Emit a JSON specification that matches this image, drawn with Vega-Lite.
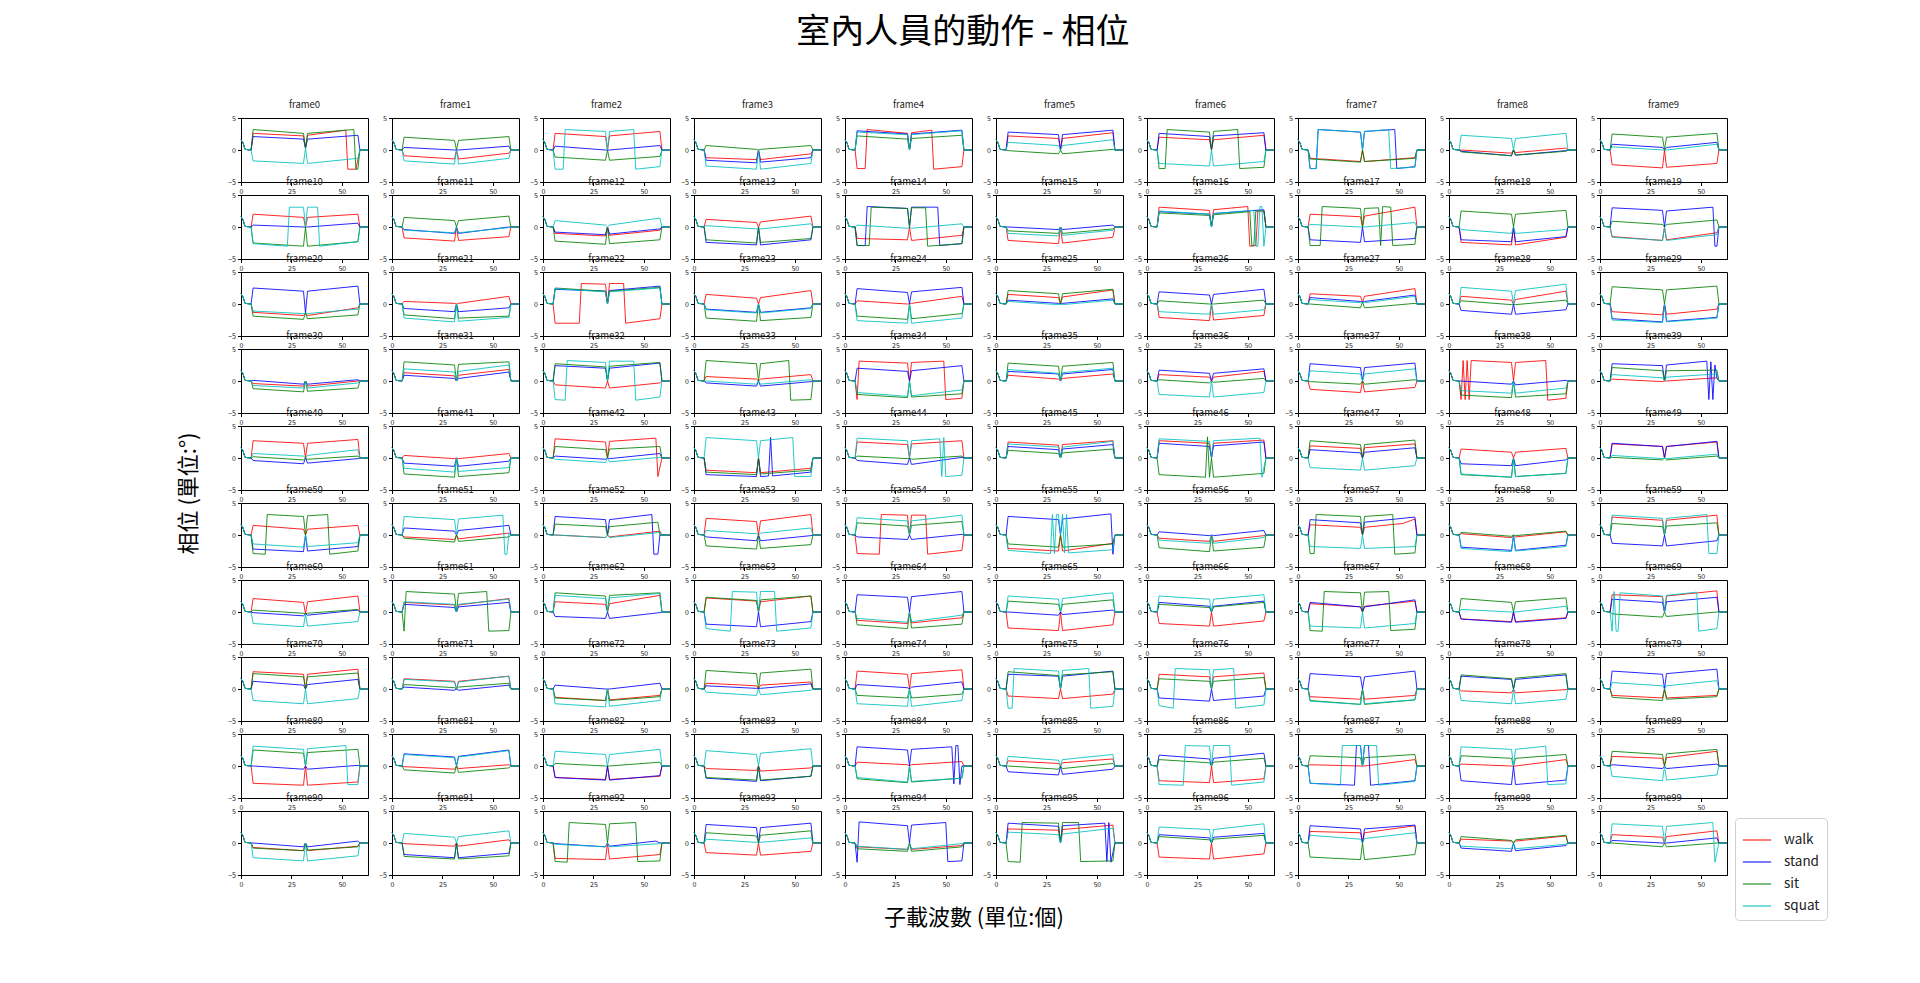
{
"$schema": "https://vega.github.io/schema/vega-lite/v6.json",
"padding": {"left": 178, "top": 16, "right": 10, "bottom": 10},
"title": {"text": "室內人員的動作 - 相位", "fontSize": 34, "fontWeight": "normal", "anchor": "middle", "offset": 49, "dx": -40, "color": "#000", "font": "Noto Sans CJK TC"},
"config": {
  "font": "Noto Sans CJK TC",
  "view": {"stroke": "#000", "strokeWidth": 1},
  "axis": {"grid": false, "labelFontSize": 7, "tickSize": 3.5, "labelPadding": 2, "domainColor": "#000", "tickColor": "#000", "labelColor": "#222", "labelFont": "Noto Sans CJK TC"}
},
"vconcat": [{
  "title": {"text": "子載波數 (單位:個)", "orient": "bottom", "anchor": "middle", "fontSize": 22, "fontWeight": "normal", "offset": 20, "dx": 20, "color": "#000"},
  "vconcat": [{
    "title": {"text": "相位 (單位:°)", "orient": "left", "anchor": "middle", "fontSize": 22, "fontWeight": "normal", "offset": 26, "color": "#000"},
    "data": {"values": [
{"f":0,"s":"walk","t":"0w","y":[1.6,1.1,0.1,0,2.6,2.2,0.3,2.3,3.1,-3,-3,0,0]},
{"f":0,"s":"stand","t":"s","y":[1.6,1.1,0.1,0,2.1,1.7,0.3,1.7,2.3,0,0]},
{"f":0,"s":"sit","t":"0i","y":[1.6,1.1,0.1,0,3.2,2.6,0.3,2.6,3.2,-3,-3,0,0]},
{"f":0,"s":"squat","t":"s","y":[1.6,1.1,0.1,0,-1.7,-2.1,0.3,-2.1,-1.3,0,0]},
{"f":1,"s":"walk","t":"s","y":[1.6,1.1,0.1,0,-0.9,-1.4,0,-1.4,-0.5,0,0]},
{"f":1,"s":"stand","t":"s","y":[1.6,1.1,0.1,0,0.4,0,0,0,0.6,0,0]},
{"f":1,"s":"sit","t":"s","y":[1.6,1.1,0.1,0,2,1.5,0,1.5,2.1,0,0]},
{"f":1,"s":"squat","t":"s","y":[1.6,1.1,0.1,0,-1.7,-2.2,0,-2.2,-1.3,0,0]},
{"f":2,"s":"walk","t":"s","y":[1.6,1.1,0.1,0,2.6,2.1,0,2.2,2.9,0,0]},
{"f":2,"s":"stand","t":"s","y":[1.6,1.1,0.1,0,0.6,0,0,0,0.7,0,0]},
{"f":2,"s":"sit","t":"s","y":[1.6,1.1,0.1,0,-1.1,-1.6,0,-1.6,-1,0,0]},
{"f":2,"s":"squat","t":"a10","y":[1.6,1.1,0.1,0,-3,-3,3.2,2.9,0,2.9,3.2,-3,-2.6,0,0]},
{"f":3,"s":"walk","t":"s","y":[1.6,1.1,0.1,0,-1.2,-1.5,0,-1.5,-0.6,0,0]},
{"f":3,"s":"stand","t":"s","y":[1.6,1.1,0.1,0,-1.6,-2,0,-1.9,-1.2,0,0]},
{"f":3,"s":"sit","t":"s","y":[1.6,1.1,0.1,0,0.7,0.1,0,0.1,0.7,0,0]},
{"f":3,"s":"squat","t":"s","y":[1.6,1.1,0.1,0,-2.5,-3,0,-3,-2.1,0,0]},
{"f":4,"s":"walk","t":"4w","y":[1.6,1.1,0.1,0,-2.9,-2.9,3.2,2.6,0,2.7,3.1,-3,-2.6,0,0]},
{"f":4,"s":"stand","t":"s","y":[1.6,1.1,0.1,0,3,2.5,0,2.5,3.1,0,0]},
{"f":4,"s":"sit","t":"s","y":[1.6,1.1,0.1,0,2.2,1.7,0,1.8,2.3,0,0]},
{"f":4,"s":"squat","t":"s","y":[1.6,1.1,0.1,0,2.8,2.4,0,2.4,3,0,0]},
{"f":5,"s":"walk","t":"s","y":[1.6,1.1,0.1,0,2.2,1.8,0,1.8,2.7,0,0]},
{"f":5,"s":"stand","t":"s","y":[1.6,1.1,0.1,0,2.8,2.4,0,2.4,3.1,0,0]},
{"f":5,"s":"sit","t":"s","y":[1.6,1.1,0.1,0,-0.1,-0.6,0,-0.6,0.1,0,0]},
{"f":5,"s":"squat","t":"s","y":[1.6,1.1,0.1,0,1.2,0.7,0,0.7,1.6,0,0]},
{"f":6,"s":"walk","t":"s","y":[1.6,1.1,0.1,0,2,1.6,0,1.6,2.3,0,0]},
{"f":6,"s":"stand","t":"s","y":[1.6,1.1,0.1,0,2.6,2.1,0,2.2,2.7,0,0]},
{"f":6,"s":"sit","t":"a9","y":[1.6,1.1,0.1,0,-2.9,-2.9,3.2,2.8,0,2.9,3.2,-2.9,-2.7,0,0]},
{"f":6,"s":"squat","t":"s","y":[1.6,1.1,0.1,0,-2.1,-2.5,0,-2.5,-1.8,0,0]},
{"f":7,"s":"walk","t":"s","y":[1.6,1.1,0.1,0,-1.3,-1.8,0,-1.8,-1.2,0,0]},
{"f":7,"s":"stand","t":"7s","y":[1.6,1.1,0.1,0,-2.9,-2.9,3.2,2.8,0,2.9,3.2,-2.9,-2.6,0,0]},
{"f":7,"s":"sit","t":"s","y":[1.6,1.1,0.1,0,-1.4,-1.9,0,-1.8,-1.3,0,0]},
{"f":7,"s":"squat","t":"a9","y":[1.6,1.1,0.1,0,-2.9,-2.9,3.2,2.8,0,2.9,3.2,-2.9,-2.7,0,0]},
{"f":8,"s":"walk","t":"s","y":[1.6,1.1,0.1,0,0,-0.5,0,-0.4,0.3,0,0]},
{"f":8,"s":"stand","t":"s","y":[1.6,1.1,0.1,0,-0.2,-0.9,0,-0.8,-0.1,0,0]},
{"f":8,"s":"sit","t":"s","y":[1.6,1.1,0.1,0,-0.3,-0.9,0,-0.8,-0.2,0,0]},
{"f":8,"s":"squat","t":"s","y":[1.6,1.1,0.1,0,2.3,1.8,0,1.8,2.6,0,0]},
{"f":9,"s":"walk","t":"s","y":[1.6,1.1,0.1,0,-2.3,-2.8,0,-2.7,-2.1,0,0]},
{"f":9,"s":"stand","t":"s","y":[1.6,1.1,0.1,0,0.9,0.4,0,0.4,1.2,0,0]},
{"f":9,"s":"sit","t":"s","y":[1.6,1.1,0.1,0,2.5,2,0,2,2.6,0,0]},
{"f":9,"s":"squat","t":"s","y":[1.6,1.1,0.1,0,0.5,0,0,0,0.9,0,0]},
{"f":10,"s":"walk","t":"s","y":[1.6,1.1,0.1,0,2,1.5,0,1.5,2,0,0]},
{"f":10,"s":"stand","t":"s","y":[1.6,1.1,0.1,0,0.3,0,0,0,0.6,0,0]},
{"f":10,"s":"sit","t":"s","y":[1.6,1.1,0.1,0,-2.5,-3,0,-3,-2.3,0,0]},
{"f":10,"s":"squat","t":"10q","y":[1.6,1.1,0.1,0,-2.6,-3,3.1,3.1,0,3.1,3.1,-3,-2.3,0,0]},
{"f":11,"s":"walk","t":"s","y":[1.6,1.1,0.1,0,-1.7,-2.2,0,-2.1,-1.5,0,0]},
{"f":11,"s":"stand","t":"s","y":[1.6,1.1,0.1,0,-0.4,-1,0,-1,0,0,0]},
{"f":11,"s":"sit","t":"s","y":[1.6,1.1,0.1,0,1.5,1,0,1,1.7,0,0]},
{"f":11,"s":"squat","t":"s","y":[1.6,1.1,0.1,0,-0.5,-0.9,0,-0.9,-0.1,0,0]},
{"f":12,"s":"walk","t":"s","y":[1.6,1.1,0.1,0,-1,-1.4,0,-1.3,-0.5,0,0]},
{"f":12,"s":"stand","t":"s","y":[1.6,1.1,0.1,0,-0.8,-1.2,0,-1.1,-0.3,0,0]},
{"f":12,"s":"sit","t":"s","y":[1.6,1.1,0.1,0,-2.2,-2.7,0,-2.6,-2,0,0]},
{"f":12,"s":"squat","t":"s","y":[1.6,1.1,0.1,0,1,0.3,0,0.3,1.4,0,0]},
{"f":13,"s":"walk","t":"s","y":[1.6,1.1,0.1,0,1.2,0.7,0,0.8,1.7,0,0]},
{"f":13,"s":"stand","t":"s","y":[1.6,1.1,0.1,0,-2.4,-2.8,0,-2.8,-2,0,0]},
{"f":13,"s":"sit","t":"s","y":[1.6,1.1,0.1,0,-2,-2.5,0,-2.4,-1.8,0,0]},
{"f":13,"s":"squat","t":"s","y":[1.6,1.1,0.1,0,0.2,-0.3,0,-0.3,0.5,0,0]},
{"f":14,"s":"walk","t":"s","y":[1.6,1.1,0.1,0,-1.8,-2,0,-2.1,-1.3,0,0]},
{"f":14,"s":"stand","t":"14s","y":[1.6,1.1,0.1,0,-2.9,-2.9,3.2,2.9,0,3.1,3.1,-2.9,-2.6,0,0]},
{"f":14,"s":"sit","t":"14i","y":[1.6,1.1,0.1,0,-2.9,-2.9,3.1,2.9,0,3,3,-3,-2.6,0,0]},
{"f":14,"s":"squat","t":"s","y":[1.6,1.1,0.1,0,0.3,-0.2,0,-0.2,0.5,0,0]},
{"f":15,"s":"walk","t":"s","y":[1.6,1.1,0.1,0,-2.1,-2.6,0,-2.5,-1.6,0,0]},
{"f":15,"s":"stand","t":"s","y":[1.6,1.1,0.1,0,0,-0.4,0,-0.4,0.3,0,0]},
{"f":15,"s":"sit","t":"s","y":[1.6,1.1,0.1,0,-0.6,-1,0,-1,-0.3,0,0]},
{"f":15,"s":"squat","t":"s","y":[1.6,1.1,0.1,0,-1,-1.4,0,-1.3,-0.5,0,0]},
{"f":16,"s":"walk","t":"16w","y":[1.6,1.1,0.1,0,3.1,2.6,0,2.7,3.2,-3,-2.9,2.5,2.5,0,0]},
{"f":16,"s":"stand","t":"s","y":[1.6,1.1,0.1,0,2.4,2,0,2.1,2.7,0,0]},
{"f":16,"s":"sit","t":"16i","y":[1.6,1.1,0.1,0,2.2,1.8,0,1.9,2.4,-2.9,-2.9,2.5,2.5,0,0]},
{"f":16,"s":"squat","t":"e16","y":[1.6,1.1,0.1,0,2.5,2,0,2.1,2.6,-3,-3,3.2,3.2,-3,0,0]},
{"f":17,"s":"walk","t":"s","y":[1.6,1.1,0.1,0,2,1.6,0,1.7,3.1,0,0]},
{"f":17,"s":"stand","t":"s","y":[1.6,1.1,0.1,0,-2,-2.4,0,-2.3,-1.8,0,0]},
{"f":17,"s":"sit","t":"17i","y":[1.6,1.1,0.1,0,-2.9,-2.9,3.2,2.9,0,2.9,3,-2.9,3.2,3.1,-2.9,-2.7,0,0]},
{"f":17,"s":"squat","t":"s","y":[1.6,1.1,0.1,0,0.4,0,0,0,0.7,0,0]},
{"f":18,"s":"walk","t":"s","y":[1.6,1.1,0.1,0,-2.4,-2.8,0,-2.8,-1.6,0,0]},
{"f":18,"s":"stand","t":"s","y":[1.6,1.1,0.1,0,-2,-2.3,0,-2.3,-1.5,0,0]},
{"f":18,"s":"sit","t":"s","y":[1.6,1.1,0.1,0,2.5,2,0,2,2.6,0,0]},
{"f":18,"s":"squat","t":"s","y":[1.6,1.1,0.1,0,-0.4,-1,0,-1,-0.4,0,0]},
{"f":19,"s":"walk","t":"s","y":[1.6,1.1,0.1,0,-1.5,-2.1,0,-2,-0.9,0,0]},
{"f":19,"s":"stand","t":"0i","y":[1.6,1.1,0.1,0,3,2.6,0,2.5,3.1,-3,-3,0,0]},
{"f":19,"s":"sit","t":"s","y":[1.6,1.1,0.1,0,0.9,0.4,0,0.4,1.1,0,0]},
{"f":19,"s":"squat","t":"s","y":[1.6,1.1,0.1,0,-1.6,-2.1,0,-2.1,-1.2,0,0]},
{"f":20,"s":"walk","t":"s","y":[1.6,1.1,0.1,0,-1.3,-1.8,-1.4,-1.8,-0.6,0,0]},
{"f":20,"s":"stand","t":"s","y":[1.6,1.1,0.1,0,2.5,2,-1.4,2,2.8,0,0]},
{"f":20,"s":"sit","t":"s","y":[1.6,1.1,0.1,0,-1.9,-2.4,-1.4,-2.3,-1.7,0,0]},
{"f":20,"s":"squat","t":"s","y":[1.6,1.1,0.1,0,-1.1,-1.5,-1.4,-1.5,-0.8,0,0]},
{"f":21,"s":"walk","t":"s","y":[1.6,1.1,0.1,0,0.4,0.1,0,0.1,1.2,0,0]},
{"f":21,"s":"stand","t":"s","y":[1.6,1.1,0.1,0,-0.7,-1.2,0,-1.2,-0.6,0,0]},
{"f":21,"s":"sit","t":"s","y":[1.6,1.1,0.1,0,-1.7,-2.3,0,-2.2,-1.9,0,0]},
{"f":21,"s":"squat","t":"s","y":[1.6,1.1,0.1,0,-2.2,-2.8,0,-2.7,-2.1,0,0]},
{"f":22,"s":"walk","t":"j18","y":[1.6,1.1,0.1,0,-3,-3,3.2,3.1,0,3.2,3.2,-3,-2.3,0,0]},
{"f":22,"s":"stand","t":"s","y":[1.6,1.1,0.1,0,2.3,2,0,2.1,2.8,0,0]},
{"f":22,"s":"sit","t":"s","y":[1.6,1.1,0.1,0,2.5,2,0,2,2.6,0,0]},
{"f":22,"s":"squat","t":"s","y":[1.6,1.1,0.1,0,2.4,1.9,0,1.9,2.5,0,0]},
{"f":23,"s":"walk","t":"s","y":[1.6,1.1,0.1,0,1.5,0.9,0,1,2.1,0,0]},
{"f":23,"s":"stand","t":"s","y":[1.6,1.1,0.1,0,-0.8,-1.3,0,-1.3,-0.6,0,0]},
{"f":23,"s":"sit","t":"s","y":[1.6,1.1,0.1,0,-2.2,-2.7,0,-2.6,-2.1,0,0]},
{"f":23,"s":"squat","t":"s","y":[1.6,1.1,0.1,0,-0.9,-1.4,0,-1.4,-0.7,0,0]},
{"f":24,"s":"walk","t":"s","y":[1.6,1.1,0.1,0,0.5,0,0,0.1,1.2,0,0]},
{"f":24,"s":"stand","t":"s","y":[1.6,1.1,0.1,0,2.4,1.8,0,1.9,2.6,0,0]},
{"f":24,"s":"sit","t":"s","y":[1.6,1.1,0.1,0,-1.9,-2.4,0,-2.3,-1.5,0,0]},
{"f":24,"s":"squat","t":"s","y":[1.6,1.1,0.1,0,-2.6,-3,0,-3,-2.2,0,0]},
{"f":25,"s":"walk","t":"s","y":[1.6,1.1,0.1,0,1.5,1,0,1.1,2.2,0,0]},
{"f":25,"s":"stand","t":"s","y":[1.6,1.1,0.1,0,0.6,0.1,0,0.1,0.8,0,0]},
{"f":25,"s":"sit","t":"s","y":[1.6,1.1,0.1,0,2.1,1.6,0,1.6,2.3,0,0]},
{"f":25,"s":"squat","t":"s","y":[1.6,1.1,0.1,0,0.4,-0.1,0,-0.1,0.6,0,0]},
{"f":26,"s":"walk","t":"s","y":[1.6,1.1,0.1,0,-2.1,-2.6,0,-2.5,-1.8,0,0]},
{"f":26,"s":"stand","t":"s","y":[1.6,1.1,0.1,0,1.9,1.4,0,1.5,2.3,0,0]},
{"f":26,"s":"sit","t":"s","y":[1.6,1.1,0.1,0,0.5,0,0,0,0.6,0,0]},
{"f":26,"s":"squat","t":"s","y":[1.6,1.1,0.1,0,-1.2,-1.6,0,-1.6,-0.9,0,0]},
{"f":27,"s":"walk","t":"s","y":[1.6,1.1,0.1,0,1.6,1.2,0.3,1.2,2.4,0,0]},
{"f":27,"s":"stand","t":"s","y":[1.6,1.1,0.1,0,1,0.4,0.3,0.4,1.4,0,0]},
{"f":27,"s":"sit","t":"s","y":[1.6,1.1,0.1,0,0,-0.6,0.3,-0.6,0.1,0,0]},
{"f":27,"s":"squat","t":"s","y":[1.6,1.1,0.1,0,0.7,0.2,0.3,0.2,1.2,0,0]},
{"f":28,"s":"walk","t":"s","y":[1.6,1.1,0.1,0,1.2,0.6,0,0.7,2,0,0]},
{"f":28,"s":"stand","t":"s","y":[1.6,1.1,0.1,0,-1,-1.6,0,-1.6,-0.9,0,0]},
{"f":28,"s":"sit","t":"s","y":[1.6,1.1,0.1,0,0.5,-0.1,0,-0.1,0.6,0,0]},
{"f":28,"s":"squat","t":"s","y":[1.6,1.1,0.1,0,2.6,2,0,2.1,3.1,0,0]},
{"f":29,"s":"walk","t":"s","y":[1.6,1.1,0.1,0,-1.2,-1.7,0,-1.6,-0.8,0,0]},
{"f":29,"s":"stand","t":"s","y":[1.6,1.1,0.1,0,-2.3,-2.8,0,-2.7,-2.1,0,0]},
{"f":29,"s":"sit","t":"s","y":[1.6,1.1,0.1,0,2.7,2.2,0,2.2,2.8,0,0]},
{"f":29,"s":"squat","t":"s","y":[1.6,1.1,0.1,0,-2.5,-2.9,0,-2.8,-2.2,0,0]},
{"f":30,"s":"walk","t":"s","y":[1.6,1.1,0.1,0,-0.4,-0.8,0,-0.8,0,0,0]},
{"f":30,"s":"stand","t":"s","y":[1.6,1.1,0.1,0,0.1,-0.5,0,-0.5,0.2,0,0]},
{"f":30,"s":"sit","t":"s","y":[1.6,1.1,0.1,0,-1.2,-1.7,0,-1.6,-1.1,0,0]},
{"f":30,"s":"squat","t":"s","y":[1.6,1.1,0.1,0,-0.7,-1.1,0,-1.1,-0.3,0,0]},
{"f":31,"s":"walk","t":"s","y":[1.6,1.1,0.1,0,1.3,0.8,0,0.9,1.8,0,0]},
{"f":31,"s":"stand","t":"s","y":[1.6,1.1,0.1,0,0.9,0.4,0,0.4,1.4,0,0]},
{"f":31,"s":"sit","t":"s","y":[1.6,1.1,0.1,0,3,2.5,0,2.6,3,0,0]},
{"f":31,"s":"squat","t":"s","y":[1.6,1.1,0.1,0,1.9,1.4,0,1.5,2.5,0,0]},
{"f":32,"s":"walk","t":"s","y":[1.6,1.1,0.1,0,-0.6,-1.1,0,-1.1,-0.3,0,0]},
{"f":32,"s":"stand","t":"s","y":[1.6,1.1,0.1,0,2.4,2,0,2,2.8,0,0]},
{"f":32,"s":"sit","t":"s","y":[1.6,1.1,0.1,0,2.7,2.2,0,2.3,2.9,0,0]},
{"f":32,"s":"squat","t":"32q","y":[1.6,1.1,0.1,0,-2.9,-3,3.2,2.9,0,3.1,3.1,-3,-2.5,0,0]},
{"f":33,"s":"walk","t":"s","y":[1.6,1.1,0.1,0,0.7,0.3,0,0.3,1,0,0]},
{"f":33,"s":"stand","t":"s","y":[1.6,1.1,0.1,0,-0.3,-0.8,0,-0.8,-0.1,0,0]},
{"f":33,"s":"sit","t":"33i","y":[1.6,1.1,0.1,0,3.2,2.7,0,2.7,3.2,-3,-2.9,0,0]},
{"f":33,"s":"squat","t":"s","y":[1.6,1.1,0.1,0,0,-0.5,0,-0.5,0.2,0,0]},
{"f":34,"s":"walk","t":"34w","y":[1.6,1.1,0.1,0,-2.9,3.1,2.8,0,2.9,3.1,-2.9,-2.7,0,0]},
{"f":34,"s":"stand","t":"s","y":[1.6,1.1,0.1,0,2,1.5,0,1.6,2.4,0,0]},
{"f":34,"s":"sit","t":"s","y":[1.6,1.1,0.1,0,-2.1,-2.6,0,-2.5,-2,0,0]},
{"f":34,"s":"squat","t":"s","y":[1.6,1.1,0.1,0,-1.8,-2.4,0,-2.3,-1.4,0,0]},
{"f":35,"s":"walk","t":"s","y":[1.6,1.1,0.1,0,0.9,0.3,0,0.4,1.1,0,0]},
{"f":35,"s":"stand","t":"s","y":[1.6,1.1,0.1,0,1.5,1.1,0,1.1,1.8,0,0]},
{"f":35,"s":"sit","t":"s","y":[1.6,1.1,0.1,0,2.8,2.3,0,2.3,2.9,0,0]},
{"f":35,"s":"squat","t":"s","y":[1.6,1.1,0.1,0,1.8,1.2,0,1.3,2,0,0]},
{"f":36,"s":"walk","t":"s","y":[1.6,1.1,0.1,0,1,0.6,0,0.6,1.5,0,0]},
{"f":36,"s":"stand","t":"s","y":[1.6,1.1,0.1,0,1.7,1.2,0,1.2,1.9,0,0]},
{"f":36,"s":"sit","t":"s","y":[1.6,1.1,0.1,0,0.2,-0.3,0,-0.2,0.4,0,0]},
{"f":36,"s":"squat","t":"s","y":[1.6,1.1,0.1,0,-2.1,-2.5,0,-2.5,-1.8,0,0]},
{"f":37,"s":"walk","t":"s","y":[1.6,1.1,0.1,0,-1.3,-1.8,0,-1.7,-1,0,0]},
{"f":37,"s":"stand","t":"s","y":[1.6,1.1,0.1,0,2.7,2.1,0,2.1,2.8,0,0]},
{"f":37,"s":"sit","t":"s","y":[1.6,1.1,0.1,0,-0.1,-0.5,0,-0.5,0.2,0,0]},
{"f":37,"s":"squat","t":"s","y":[1.6,1.1,0.1,0,1.6,1.1,0,1.1,1.9,0,0]},
{"f":38,"s":"walk","t":"38w","y":[1.6,1.1,0.1,0,-2.9,3.2,-2.9,3.2,-2.9,3.2,2.9,0,2.9,3.2,-3,-2.7,0,0]},
{"f":38,"s":"stand","t":"s","y":[1.6,1.1,0.1,0,0,-0.5,0,-0.6,0.1,0,0]},
{"f":38,"s":"sit","t":"s","y":[1.6,1.1,0.1,0,-2.2,-2.6,0,-2.5,-2,0,0]},
{"f":38,"s":"squat","t":"s","y":[1.6,1.1,0.1,0,-1.5,-1.9,0,-1.9,-1.1,0,0]},
{"f":39,"s":"walk","t":"s","y":[1.6,1.1,0.1,0,0.3,-0.1,0,0,0.5,0,0]},
{"f":39,"s":"stand","t":"e16","y":[1.6,1.1,0.1,0,2.7,2.4,0,2.5,3.1,-2.9,3,-2.9,2.5,0.5,0,0]},
{"f":39,"s":"sit","t":"s","y":[1.6,1.1,0.1,0,2.1,1.6,0,1.6,1.7,0,0]},
{"f":39,"s":"squat","t":"s","y":[1.6,1.1,0.1,0,1,0.5,0,0.6,1.1,0,0]},
{"f":40,"s":"walk","t":"s","y":[1.6,1.1,0.1,0,2.7,2.3,0,2.3,2.9,0,0]},
{"f":40,"s":"stand","t":"s","y":[1.6,1.1,0.1,0,-0.4,-0.9,0,-0.8,-0.1,0,0]},
{"f":40,"s":"sit","t":"s","y":[1.6,1.1,0.1,0,0.2,-0.3,0,-0.2,0.3,0,0]},
{"f":40,"s":"squat","t":"s","y":[1.6,1.1,0.1,0,0.7,0.3,0,0.4,1.3,0,0]},
{"f":41,"s":"walk","t":"s","y":[1.6,1.1,0.1,0,0.4,-0.1,0,-0.1,0.7,0,0]},
{"f":41,"s":"stand","t":"s","y":[1.6,1.1,0.1,0,-0.8,-1.3,0,-1.3,-0.5,0,0]},
{"f":41,"s":"sit","t":"s","y":[1.6,1.1,0.1,0,-2.5,-3,0,-2.9,-2.3,0,0]},
{"f":41,"s":"squat","t":"s","y":[1.6,1.1,0.1,0,-1.6,-2.2,0,-2.1,-1.5,0,0]},
{"f":42,"s":"walk","t":"e56","y":[1.6,1.1,0.1,0,3,2.5,0,2.6,3.1,-2.9,0,0]},
{"f":42,"s":"stand","t":"s","y":[1.6,1.1,0.1,0,0.3,-0.2,0,-0.1,0.7,0,0]},
{"f":42,"s":"sit","t":"s","y":[1.6,1.1,0.1,0,1.8,1.3,0,1.4,1.8,0,0]},
{"f":42,"s":"squat","t":"s","y":[1.6,1.1,0.1,0,-0.2,-0.7,0,-0.6,0.1,0,0]},
{"f":43,"s":"walk","t":"s","y":[1.6,1.1,0.1,0,-1.9,-2.3,0,-2.3,-1.6,0,0]},
{"f":43,"s":"stand","t":"43s","y":[1.6,1.1,0.1,0,-2.6,-2.9,0,-2.9,-2.8,3.2,-2.8,-2.2,0,0]},
{"f":43,"s":"sit","t":"s","y":[1.6,1.1,0.1,0,-2.2,-2.6,0,-2.5,-1.9,0,0]},
{"f":43,"s":"squat","t":"43q","y":[1.6,1.1,0.1,0,3.2,2.7,0,2.7,3.2,-2.9,-2.9,0,0]},
{"f":44,"s":"walk","t":"s","y":[1.6,1.1,0.1,0,2.5,2.1,0,2.2,2.7,0,0]},
{"f":44,"s":"stand","t":"s","y":[1.6,1.1,0.1,0,-0.4,-1,0,-1,0.1,0,0]},
{"f":44,"s":"sit","t":"s","y":[1.6,1.1,0.1,0,0.3,-0.1,0,-0.2,0.3,0,0]},
{"f":44,"s":"squat","t":"44q","y":[1.6,1.1,0.1,0,3.1,2.7,0,2.7,3,-2.9,3.2,-2.9,-2.7,0,0]},
{"f":45,"s":"walk","t":"s","y":[1.6,1.1,0.1,0,2.5,2,0,2.1,2.7,0,0]},
{"f":45,"s":"stand","t":"s","y":[1.6,1.1,0.1,0,1.8,1.3,0,1.4,2.1,0,0]},
{"f":45,"s":"sit","t":"s","y":[1.6,1.1,0.1,0,1.2,0.7,0,0.8,1.4,0,0]},
{"f":45,"s":"squat","t":"s","y":[1.6,1.1,0.1,0,2.2,1.7,0,1.7,2.6,0,0]},
{"f":46,"s":"walk","t":"s","y":[1.6,1.1,0.1,0,2.7,2.3,0,2.3,2.8,0,0]},
{"f":46,"s":"stand","t":"s","y":[1.6,1.1,0.1,0,2.3,1.8,0,1.9,2.5,0,0]},
{"f":46,"s":"sit","t":"46i","y":[1.6,1.1,0.1,0,-2.6,-3,3.3,-3,0,-3,-2.4,0,0]},
{"f":46,"s":"squat","t":"e56","y":[1.6,1.1,0.1,0,3,2.6,0,2.7,3.1,-3,0,0]},
{"f":47,"s":"walk","t":"s","y":[1.6,1.1,0.1,0,1.9,1.5,0,1.6,2.2,0,0]},
{"f":47,"s":"stand","t":"s","y":[1.6,1.1,0.1,0,1.3,0.8,0,0.9,1.6,0,0]},
{"f":47,"s":"sit","t":"s","y":[1.6,1.1,0.1,0,2.7,2.1,0,2.1,2.8,0,0]},
{"f":47,"s":"squat","t":"s","y":[1.6,1.1,0.1,0,-1.5,-1.9,0,-1.9,-1.2,0,0]},
{"f":48,"s":"walk","t":"s","y":[1.6,1.1,0.1,0,1.4,0.9,0,0.9,1.5,0,0]},
{"f":48,"s":"stand","t":"s","y":[1.6,1.1,0.1,0,-0.9,-1.2,0,-1.2,-0.3,0,0]},
{"f":48,"s":"sit","t":"s","y":[1.6,1.1,0.1,0,-2.6,-3,0,-2.9,-2.4,0,0]},
{"f":48,"s":"squat","t":"s","y":[1.6,1.1,0.1,0,-2.5,-3,0,-2.9,-2.4,0,0]},
{"f":49,"s":"walk","t":"s","y":[1.6,1.1,0.1,0,2.2,1.8,0,1.8,2.5,0,0]},
{"f":49,"s":"stand","t":"s","y":[1.6,1.1,0.1,0,2.3,1.8,0,1.8,2.6,0,0]},
{"f":49,"s":"sit","t":"s","y":[1.6,1.1,0.1,0,0.1,-0.3,0,-0.3,0.3,0,0]},
{"f":49,"s":"squat","t":"s","y":[1.6,1.1,0.1,0,0.4,-0.1,0,-0.1,0.6,0,0]},
{"f":50,"s":"walk","t":"s","y":[1.6,1.1,0.1,0,1.5,0.9,0,0.9,1.5,0,0]},
{"f":50,"s":"stand","t":"s","y":[1.6,1.1,0.1,0,-2.2,-2.6,0,-2.5,-1.8,0,0]},
{"f":50,"s":"sit","t":"50i","y":[1.6,1.1,0.1,0,-2.9,-3,3.2,2.9,0,3,3.2,-3,-2.5,0,0]},
{"f":50,"s":"squat","t":"s","y":[1.6,1.1,0.1,0,-1.4,-1.9,0,-1.8,-1.2,0,0]},
{"f":51,"s":"walk","t":"s","y":[1.6,1.1,0.1,0,-0.3,-0.7,0,-0.6,0.3,0,0]},
{"f":51,"s":"stand","t":"s","y":[1.6,1.1,0.1,0,1.1,0.6,0,0.7,1.5,0,0]},
{"f":51,"s":"sit","t":"s","y":[1.6,1.1,0.1,0,-0.5,-1.1,0,-1,-0.3,0,0]},
{"f":51,"s":"squat","t":"51q","y":[1.6,1.1,0.1,0,2.9,2.4,0,2.5,3.1,-3,-3,0.3,0,0]},
{"f":52,"s":"walk","t":"s","y":[1.6,1.1,0.1,0,0,-0.4,0,-0.3,0.6,0,0]},
{"f":52,"s":"stand","t":"52s","y":[1.6,1.1,0.1,0,2.9,2.4,0,2.4,3.2,-3,-3,0,0,0]},
{"f":52,"s":"sit","t":"e57","y":[1.6,1.1,0.1,0,1.7,1.3,0,1.3,2,0,0,0]},
{"f":52,"s":"squat","t":"s","y":[1.6,1.1,0.1,0,0,-0.4,0,-0.4,0.4,0,0]},
{"f":53,"s":"walk","t":"s","y":[1.6,1.1,0.1,0,2.6,2.1,0,2.2,3.2,0,0]},
{"f":53,"s":"stand","t":"s","y":[1.6,1.1,0.1,0,-0.3,-0.9,0,-0.9,-0.1,0,0]},
{"f":53,"s":"sit","t":"s","y":[1.6,1.1,0.1,0,-1.7,-2.2,0,-2.1,-1.5,0,0]},
{"f":53,"s":"squat","t":"s","y":[1.6,1.1,0.1,0,0.7,0.2,0,0.3,1.1,0,0]},
{"f":54,"s":"walk","t":"54w","y":[1.6,1.1,0.1,0,-2.9,-3,3.2,3.1,0,3.1,3.1,-3,-2.4,0,0]},
{"f":54,"s":"stand","t":"s","y":[1.6,1.1,0.1,0,-0.3,-0.7,0,-0.7,0.1,0,0]},
{"f":54,"s":"sit","t":"s","y":[1.6,1.1,0.1,0,1.9,1.4,0,1.5,2.1,0,0]},
{"f":54,"s":"squat","t":"s","y":[1.6,1.1,0.1,0,2.7,2.2,0,2.2,3.1,0,0]},
{"f":55,"s":"walk","t":"s","y":[1.6,1.1,0.1,0,-2.1,-2.5,0,-2.5,-1.3,0,0]},
{"f":55,"s":"stand","t":"e57","y":[1.6,1.1,0.1,0,2.9,2.4,0,2.5,3.3,-3,0,0]},
{"f":55,"s":"sit","t":"s","y":[1.6,1.1,0.1,0,-1.4,-1.9,0,-1.9,-1.4,0,0]},
{"f":55,"s":"squat","t":"55q","y":[1.6,1.1,0.1,0,-2.4,-2.9,3.2,-2.9,3.2,3.2,0,3.2,-2.8,3.2,-2.8,-2.3,0,0]},
{"f":56,"s":"walk","t":"s","y":[1.6,1.1,0.1,0,-0.5,-1,0,-1,-0.1,0,0]},
{"f":56,"s":"stand","t":"s","y":[1.6,1.1,0.1,0,0.5,-0.1,0,-0.1,0.7,0,0]},
{"f":56,"s":"sit","t":"s","y":[1.6,1.1,0.1,0,-2,-2.6,0,-2.5,-1.9,0,0]},
{"f":56,"s":"squat","t":"s","y":[1.6,1.1,0.1,0,-0.8,-1.3,0,-1.3,-0.4,0,0]},
{"f":57,"s":"walk","t":"57w","y":[1.6,1.1,0.1,0,1.6,1.2,0,1.2,1.8,2.5,0,0]},
{"f":57,"s":"stand","t":"s","y":[1.6,1.1,0.1,0,2.4,1.9,0,2,2.8,0,0]},
{"f":57,"s":"sit","t":"57i","y":[1.6,1.1,0.1,0,-2.9,-2.9,3.2,2.9,0,2.9,3.2,-3,-2.8,0,0]},
{"f":57,"s":"squat","t":"s","y":[1.6,1.1,0.1,0,-1.8,-2.1,0,-2.1,-1.8,0,0]},
{"f":58,"s":"walk","t":"s","y":[1.6,1.1,0.1,0,0.2,-0.4,0,-0.3,0.5,0,0]},
{"f":58,"s":"stand","t":"s","y":[1.6,1.1,0.1,0,-1.9,-2.4,0,-2.4,-1.6,0,0]},
{"f":58,"s":"sit","t":"s","y":[1.6,1.1,0.1,0,0.4,-0.2,0,-0.1,0.6,0,0]},
{"f":58,"s":"squat","t":"s","y":[1.6,1.1,0.1,0,-2.1,-2.6,0,-2.5,-1.8,0,0]},
{"f":59,"s":"walk","t":"s","y":[1.6,1.1,0.1,0,2.8,2.3,0,2.3,3.1,0,0]},
{"f":59,"s":"stand","t":"s","y":[1.6,1.1,0.1,0,-1.3,-1.7,0,-1.7,-0.9,0,0]},
{"f":59,"s":"sit","t":"s","y":[1.6,1.1,0.1,0,1.8,1.3,0,1.4,1.9,0,0]},
{"f":59,"s":"squat","t":"59q","y":[1.6,1.1,0.1,0,3.1,2.6,0,2.6,3.2,-2.9,-2.9,0,0]},
{"f":60,"s":"walk","t":"s","y":[1.6,1.1,0.1,0,2.1,1.5,-0.3,1.6,2.5,0,0]},
{"f":60,"s":"stand","t":"s","y":[1.6,1.1,0.1,0,-0.1,-0.6,-0.3,-0.5,0.3,0,0]},
{"f":60,"s":"sit","t":"s","y":[1.6,1.1,0.1,0,0.3,-0.2,-0.3,-0.2,0.4,0,0]},
{"f":60,"s":"squat","t":"s","y":[1.6,1.1,0.1,0,-1.8,-2.3,-0.3,-2.2,-1.5,0,0]},
{"f":61,"s":"walk","t":"s","y":[1.6,1.1,0.1,0,1.5,1.1,0,1.1,2.1,0,0]},
{"f":61,"s":"stand","t":"s","y":[1.6,1.1,0.1,0,1.2,0.7,0,0.8,1.5,0,0]},
{"f":61,"s":"sit","t":"61i","y":[1.6,1.1,0.1,0,-3,3.2,2.8,0,2.9,3.2,-3,-2.9,0,0]},
{"f":61,"s":"squat","t":"s","y":[1.6,1.1,0.1,0,1.6,1.2,0,1.2,2,0,0]},
{"f":62,"s":"walk","t":"s","y":[1.6,1.1,0.1,0,1.6,1.2,0,1.3,2.6,0,0]},
{"f":62,"s":"stand","t":"s","y":[1.6,1.1,0.1,0,-0.7,-1,0,-1,-0.1,0,0]},
{"f":62,"s":"sit","t":"s","y":[1.6,1.1,0.1,0,3,2.5,0,2.6,3,0,0]},
{"f":62,"s":"squat","t":"s","y":[1.6,1.1,0.1,0,2.6,2.1,0,2.2,2.9,0,0]},
{"f":63,"s":"walk","t":"s","y":[1.6,1.1,0.1,0,2.2,1.7,0,1.6,2.5,0,0]},
{"f":63,"s":"stand","t":"s","y":[1.6,1.1,0.1,0,-1.9,-2.3,0,-2.3,-1.5,0,0]},
{"f":63,"s":"sit","t":"s","y":[1.6,1.1,0.1,0,2.3,1.8,0,1.9,2.5,0,0]},
{"f":63,"s":"squat","t":"j18","y":[1.6,1.1,0.1,0,-2.6,-3,3.2,3.1,0,3.2,3.2,-3,-2.5,0,0]},
{"f":64,"s":"walk","t":"s","y":[1.6,1.1,0.1,0,-1.3,-1.8,0,-1.7,-0.9,0,0]},
{"f":64,"s":"stand","t":"s","y":[1.6,1.1,0.1,0,2.7,2.3,0,2.4,3.2,0,0]},
{"f":64,"s":"sit","t":"s","y":[1.6,1.1,0.1,0,-2,-2.6,0,-2.5,-1.9,0,0]},
{"f":64,"s":"squat","t":"s","y":[1.6,1.1,0.1,0,-1,-1.6,0,-1.5,-0.5,0,0]},
{"f":65,"s":"walk","t":"s","y":[1.6,1.1,0.1,0,-2.5,-2.9,0,-2.9,-2,0,0]},
{"f":65,"s":"stand","t":"s","y":[1.6,1.1,0.1,0,0,-0.5,0,-0.4,0.3,0,0]},
{"f":65,"s":"sit","t":"s","y":[1.6,1.1,0.1,0,1.7,1.2,0,1.2,1.9,0,0]},
{"f":65,"s":"squat","t":"s","y":[1.6,1.1,0.1,0,2.5,2,0,2.1,3,0,0]},
{"f":66,"s":"walk","t":"s","y":[1.6,1.1,0.1,0,-1.8,-2.2,0,-2.2,-1.4,0,0]},
{"f":66,"s":"stand","t":"s","y":[1.6,1.1,0.1,0,1.5,0.9,0,0.9,1.7,0,0]},
{"f":66,"s":"sit","t":"s","y":[1.6,1.1,0.1,0,1.2,0.7,0,0.8,1.5,0,0]},
{"f":66,"s":"squat","t":"s","y":[1.6,1.1,0.1,0,2.5,2,0,2,2.7,0,0]},
{"f":67,"s":"walk","t":"s","y":[1.6,1.1,0.1,0,1.3,0.8,0,0.9,1.7,0,0]},
{"f":67,"s":"stand","t":"s","y":[1.6,1.1,0.1,0,1.5,0.8,0,0.8,1.9,0,0]},
{"f":67,"s":"sit","t":"j12","y":[1.6,1.1,0.1,0,-2.9,-3,3.2,3,0,3.1,3.2,-2.9,-2.7,0,0]},
{"f":67,"s":"squat","t":"s","y":[1.6,1.1,0.1,0,-2.2,-2.5,0,-2.5,-1.8,0,0]},
{"f":68,"s":"walk","t":"s","y":[1.6,1.1,0.1,0,-1.1,-1.5,0,-1.5,-0.9,0,0]},
{"f":68,"s":"stand","t":"s","y":[1.6,1.1,0.1,0,-1.1,-1.6,0,-1.6,-1,0,0]},
{"f":68,"s":"sit","t":"s","y":[1.6,1.1,0.1,0,2.1,1.5,0,1.6,2.2,0,0]},
{"f":68,"s":"squat","t":"s","y":[1.6,1.1,0.1,0,0.4,0,0,0,0.9,0,0]},
{"f":69,"s":"walk","t":"s","y":[1.6,1.1,0.1,0,2.7,2.4,0,2.5,3.3,0,0]},
{"f":69,"s":"stand","t":"s","y":[1.6,1.1,0.1,0,2,1.5,0,1.6,2.3,0,0]},
{"f":69,"s":"sit","t":"s","y":[1.6,1.1,0.1,0,-0.3,-0.8,0,-0.7,0,0,0]},
{"f":69,"s":"squat","t":"69q","y":[1.6,1.1,0.1,0,-3,3.2,-3,-3,3,2.5,0,2.6,3.1,-3,-2.6,0,0]},
{"f":70,"s":"walk","t":"s","y":[1.6,1.1,0.1,0,2.7,2.3,0,2.3,3.1,0,0]},
{"f":70,"s":"stand","t":"s","y":[1.6,1.1,0.1,0,1.2,0.6,0,0.7,1.5,0,0]},
{"f":70,"s":"sit","t":"s","y":[1.6,1.1,0.1,0,2.4,1.9,0,1.9,2.5,0,0]},
{"f":70,"s":"squat","t":"s","y":[1.6,1.1,0.1,0,-1.8,-2.3,0,-2.3,-1.5,0,0]},
{"f":71,"s":"walk","t":"s","y":[1.6,1.1,0.1,0,1.6,1.2,0,1.2,2,0,0]},
{"f":71,"s":"stand","t":"s","y":[1.6,1.1,0.1,0,0.3,-0.2,0,-0.2,0.6,0,0]},
{"f":71,"s":"sit","t":"s","y":[1.6,1.1,0.1,0,0.7,0.2,0,0.3,0.9,0,0]},
{"f":71,"s":"squat","t":"s","y":[1.6,1.1,0.1,0,1.5,1.1,0,1.1,2,0,0]},
{"f":72,"s":"walk","t":"s","y":[1.6,1.1,0.1,0,-1.3,-1.8,0,-1.7,-1,0,0]},
{"f":72,"s":"stand","t":"s","y":[1.6,1.1,0.1,0,0.6,0,0,0,0.9,0,0]},
{"f":72,"s":"sit","t":"s","y":[1.6,1.1,0.1,0,-1.4,-1.8,0,-1.8,-1.2,0,0]},
{"f":72,"s":"squat","t":"s","y":[1.6,1.1,0.1,0,-2.3,-2.8,0,-2.7,-1.8,0,0]},
{"f":73,"s":"walk","t":"s","y":[1.6,1.1,0.1,0,0.9,0.5,0,0.6,1.1,0,0]},
{"f":73,"s":"stand","t":"s","y":[1.6,1.1,0.1,0,0.5,0.1,0,0.1,0.8,0,0]},
{"f":73,"s":"sit","t":"s","y":[1.6,1.1,0.1,0,2.9,2.4,0,2.5,3.1,0,0]},
{"f":73,"s":"squat","t":"s","y":[1.6,1.1,0.1,0,-0.5,-1,0,-0.9,-0.2,0,0]},
{"f":74,"s":"walk","t":"s","y":[1.6,1.1,0.1,0,2.8,2.3,0,2.4,3,0,0]},
{"f":74,"s":"stand","t":"s","y":[1.6,1.1,0.1,0,0.7,0.2,0,0.3,1.1,0,0]},
{"f":74,"s":"sit","t":"s","y":[1.6,1.1,0.1,0,-1,-1.4,0,-1.4,-0.8,0,0]},
{"f":74,"s":"squat","t":"s","y":[1.6,1.1,0.1,0,-2.3,-2.7,0,-2.7,-1.8,0,0]},
{"f":75,"s":"walk","t":"s","y":[1.6,1.1,0.1,0,-1.1,-1.5,0,-1.5,-0.8,0,0]},
{"f":75,"s":"stand","t":"s","y":[1.6,1.1,0.1,0,2.3,2,0,2,2.8,0,0]},
{"f":75,"s":"sit","t":"s","y":[1.6,1.1,0.1,0,2.7,2.1,0,2.2,2.7,0,0]},
{"f":75,"s":"squat","t":"75q","y":[1.6,1.1,0.1,0,-3,-3,3.2,2.8,0,2.9,3.2,-3,-2.7,0,0]},
{"f":76,"s":"walk","t":"s","y":[1.6,1.1,0.1,0,2.3,1.9,0,1.9,2.5,0,0]},
{"f":76,"s":"stand","t":"s","y":[1.6,1.1,0.1,0,-1.4,-1.9,0,-1.8,-1.1,0,0]},
{"f":76,"s":"sit","t":"s","y":[1.6,1.1,0.1,0,1.6,1.2,0,1.2,1.8,0,0]},
{"f":76,"s":"squat","t":"76q","y":[1.6,1.1,0.1,0,-2.6,-3,3.2,3,0,3,3.2,-3,-2.5,0,0]},
{"f":77,"s":"walk","t":"s","y":[1.6,1.1,0.1,0,-1.2,-1.6,0,-1.6,-1,0,0]},
{"f":77,"s":"stand","t":"s","y":[1.6,1.1,0.1,0,2.4,1.9,0,1.9,2.8,0,0]},
{"f":77,"s":"sit","t":"s","y":[1.6,1.1,0.1,0,-1.8,-2.4,0,-2.4,-1.7,0,0]},
{"f":77,"s":"squat","t":"s","y":[1.6,1.1,0.1,0,-1.9,-2.4,0,-2.3,-1.7,0,0]},
{"f":78,"s":"walk","t":"s","y":[1.6,1.1,0.1,0,-0.3,-0.6,0,-0.6,-0.1,0,0]},
{"f":78,"s":"stand","t":"s","y":[1.6,1.1,0.1,0,2,1.5,0,1.5,2.2,0,0]},
{"f":78,"s":"sit","t":"s","y":[1.6,1.1,0.1,0,2.2,1.6,0,1.7,2.4,0,0]},
{"f":78,"s":"squat","t":"s","y":[1.6,1.1,0.1,0,-1.8,-2.3,0,-2.3,-1.6,0,0]},
{"f":79,"s":"walk","t":"s","y":[1.6,1.1,0.1,0,-1,-1.4,0,-1.4,-1,0,0]},
{"f":79,"s":"stand","t":"s","y":[1.6,1.1,0.1,0,2.8,2.3,0,2.4,3.1,0,0]},
{"f":79,"s":"sit","t":"s","y":[1.6,1.1,0.1,0,-1.3,-1.8,0,-1.6,-1.2,0,0]},
{"f":79,"s":"squat","t":"s","y":[1.6,1.1,0.1,0,1,0.5,0,0.5,1.3,0,0]},
{"f":80,"s":"walk","t":"s","y":[1.6,1.1,0.1,0,-2.7,-3,0,-3,-2.5,0,0]},
{"f":80,"s":"stand","t":"s","y":[1.6,1.1,0.1,0,0,-0.5,0,-0.5,0.1,0,0]},
{"f":80,"s":"sit","t":"s","y":[1.6,1.1,0.1,0,2.5,2,0,2.1,2.6,0,0]},
{"f":80,"s":"squat","t":"80q","y":[1.6,1.1,0.1,0,3.1,2.6,0,2.7,3.2,-2.9,-2.9,0,0]},
{"f":81,"s":"walk","t":"s","y":[1.6,1.1,0.1,0,-0.1,-0.5,0,-0.4,0.2,0,0]},
{"f":81,"s":"stand","t":"s","y":[1.6,1.1,0.1,0,1.9,1.4,0,1.5,2.5,0,0]},
{"f":81,"s":"sit","t":"s","y":[1.6,1.1,0.1,0,-0.6,-1.1,0,-1,-0.3,0,0]},
{"f":81,"s":"squat","t":"s","y":[1.6,1.1,0.1,0,1.8,1.3,0,1.4,2.4,0,0]},
{"f":82,"s":"walk","t":"s","y":[1.6,1.1,0.1,0,-1.8,-2.1,0,-2.1,-1.6,0,0]},
{"f":82,"s":"stand","t":"s","y":[1.6,1.1,0.1,0,-1.8,-2.2,0,-2.2,-1.5,0,0]},
{"f":82,"s":"sit","t":"s","y":[1.6,1.1,0.1,0,0.4,0,0,0,0.6,0,0]},
{"f":82,"s":"squat","t":"s","y":[1.6,1.1,0.1,0,2.3,1.8,0,1.8,2.6,0,0]},
{"f":83,"s":"walk","t":"s","y":[1.6,1.1,0.1,0,-0.4,-0.7,0,-0.8,-0.3,0,0]},
{"f":83,"s":"stand","t":"s","y":[1.6,1.1,0.1,0,-1.9,-2.4,0,-2.3,-1.6,0,0]},
{"f":83,"s":"sit","t":"s","y":[1.6,1.1,0.1,0,-1.8,-2.2,0,-2.2,-1.6,0,0]},
{"f":83,"s":"squat","t":"s","y":[1.6,1.1,0.1,0,2.4,1.8,0,2,2.7,0,0]},
{"f":84,"s":"walk","t":"s","y":[1.6,1.1,0.1,0,0.6,0.2,0,0.2,0.7,0,0]},
{"f":84,"s":"stand","t":"e16","y":[1.6,1.1,0.1,0,3,2.5,0,2.6,3,-2.8,3.2,3.2,-2.9,0,0,0]},
{"f":84,"s":"sit","t":"s","y":[1.6,1.1,0.1,0,-2,-2.6,0,-2.5,-1.9,0,0]},
{"f":84,"s":"squat","t":"s","y":[1.6,1.1,0.1,0,-1.8,-2.5,0,-2.4,-1.9,0,0]},
{"f":85,"s":"walk","t":"s","y":[1.6,1.1,0.1,0,0.8,0.4,0,0.5,1.1,0,0]},
{"f":85,"s":"stand","t":"s","y":[1.6,1.1,0.1,0,-0.9,-1.4,0,-1.3,-0.5,0,0]},
{"f":85,"s":"sit","t":"s","y":[1.6,1.1,0.1,0,0,-0.5,0,-0.4,0.4,0,0]},
{"f":85,"s":"squat","t":"s","y":[1.6,1.1,0.1,0,1.5,0.9,0,1,1.8,0,0]},
{"f":86,"s":"walk","t":"s","y":[1.6,1.1,0.1,0,-2.3,-2.6,0,-2.6,-2,0,0]},
{"f":86,"s":"stand","t":"s","y":[1.6,1.1,0.1,0,1.7,1.1,0,1.2,2,0,0]},
{"f":86,"s":"sit","t":"s","y":[1.6,1.1,0.1,0,1,0.5,0,0.6,1.2,0,0]},
{"f":86,"s":"squat","t":"86q","y":[1.6,1.1,0.1,0,-2.9,-3,3.2,3.1,0,3.2,3.2,-3,-2.5,0,0]},
{"f":87,"s":"walk","t":"s","y":[1.6,1.1,0.1,0,0.2,0,0,0,1,0,0]},
{"f":87,"s":"stand","t":"87s","y":[1.6,1.1,0.1,0,-2.7,-3,3.2,3.2,0,3.2,3.2,-3,-2.3,0,0]},
{"f":87,"s":"sit","t":"s","y":[1.6,1.1,0.1,0,1.6,1.3,0,1.3,1.8,0,0]},
{"f":87,"s":"squat","t":"87q","y":[1.6,1.1,0.1,0,-2.7,-3,3.2,3.2,0,3.2,3.2,-3,-2.4,0,0]},
{"f":88,"s":"walk","t":"s","y":[1.6,1.1,0.1,0,0.3,0,0,0,1,0,0]},
{"f":88,"s":"stand","t":"s","y":[1.6,1.1,0.1,0,-2.3,-2.9,0,-2.9,-2.2,0,0]},
{"f":88,"s":"sit","t":"s","y":[1.6,1.1,0.1,0,1.6,1.2,0,1.2,1.8,0,0]},
{"f":88,"s":"squat","t":"88q","y":[1.6,1.1,0.1,0,3,2.6,0,2.6,3.1,-2.9,-2.8,0,0]},
{"f":89,"s":"walk","t":"s","y":[1.6,1.1,0.1,0,1.5,1.2,0,1.3,2.3,0,0]},
{"f":89,"s":"stand","t":"s","y":[1.6,1.1,0.1,0,0.2,-0.4,0,-0.4,0.3,0,0]},
{"f":89,"s":"sit","t":"s","y":[1.6,1.1,0.1,0,2.3,1.8,0,1.9,2.6,0,0]},
{"f":89,"s":"squat","t":"s","y":[1.6,1.1,0.1,0,-1.6,-2.3,0,-2.2,-1.4,0,0]},
{"f":90,"s":"walk","t":"s","y":[1.6,1.1,0.1,0,-0.7,-1.2,0,-1.2,-0.5,0,0]},
{"f":90,"s":"stand","t":"s","y":[1.6,1.1,0.1,0,0,-0.6,0,-0.6,0.3,0,0]},
{"f":90,"s":"sit","t":"s","y":[1.6,1.1,0.1,0,-0.8,-1.2,0,-1.1,-0.6,0,0]},
{"f":90,"s":"squat","t":"s","y":[1.6,1.1,0.1,0,-2.3,-2.8,0,-2.8,-2,0,0]},
{"f":91,"s":"walk","t":"s","y":[1.6,1.1,0.1,0,-0.1,-0.5,0,-0.5,0.5,0,0]},
{"f":91,"s":"stand","t":"s","y":[1.6,1.1,0.1,0,-1.8,-2.3,0,-2.3,-1.6,0,0]},
{"f":91,"s":"sit","t":"s","y":[1.6,1.1,0.1,0,-2.1,-2.5,0,-2.5,-2,0,0]},
{"f":91,"s":"squat","t":"s","y":[1.6,1.1,0.1,0,1.5,0.9,0,1,1.9,0,0]},
{"f":92,"s":"walk","t":"s","y":[1.6,1.1,0.1,0,-2.4,-2.6,0,-2.5,-1.8,0,0]},
{"f":92,"s":"stand","t":"92s","y":[1.6,1.1,0.1,0,-0.1,-0.6,0,-0.5,0.3,0,0,0]},
{"f":92,"s":"sit","t":"92i","y":[1.6,1.1,0.1,0,-2.9,-3,3.2,2.9,0,3,3.2,-2.9,-2.8,0,0]},
{"f":92,"s":"squat","t":"s","y":[1.6,1.1,0.1,0,-0.2,-0.6,0,-0.6,-0.1,0,0]},
{"f":93,"s":"walk","t":"s","y":[1.6,1.1,0.1,0,-1.5,-1.9,0,-1.9,-1.3,0,0]},
{"f":93,"s":"stand","t":"s","y":[1.6,1.1,0.1,0,2.9,2.4,0,2.4,3.1,0,0]},
{"f":93,"s":"sit","t":"s","y":[1.6,1.1,0.1,0,1.6,1.1,0,1.2,1.9,0,0]},
{"f":93,"s":"squat","t":"s","y":[1.6,1.1,0.1,0,0.6,0.1,0,0.1,0.8,0,0]},
{"f":94,"s":"walk","t":"s","y":[1.6,1.1,0.1,0,-0.6,-1,0,-1,-0.4,0,0]},
{"f":94,"s":"stand","t":"94s","y":[1.6,1.1,0.1,0,-3,3.3,2.7,0,2.8,3.2,-2.9,-2.8,0,0]},
{"f":94,"s":"sit","t":"s","y":[1.6,1.1,0.1,0,-0.9,-1.3,0,-1.3,-0.6,0,0]},
{"f":94,"s":"squat","t":"s","y":[1.6,1.1,0.1,0,-0.5,-1,0,-0.9,-0.1,0,0]},
{"f":95,"s":"walk","t":"s","y":[1.6,1.1,0.1,0,2.2,2,0,2.1,2.8,0,0]},
{"f":95,"s":"stand","t":"95s","y":[1.6,1.1,0.1,0,3.1,2.6,0,2.7,3.1,-2.9,3.2,-3,0,0]},
{"f":95,"s":"sit","t":"95i","y":[1.6,1.1,0.1,0,-2.9,-3,3.2,3.1,0,3.2,3.2,-2.9,-2.8,0,0]},
{"f":95,"s":"squat","t":"s","y":[1.6,1.1,0.1,0,1.7,1.3,0,1.4,2.3,0,0]},
{"f":96,"s":"walk","t":"s","y":[1.6,1.1,0.1,0,-2.2,-2.5,0,-2.5,-1.7,0,0]},
{"f":96,"s":"stand","t":"s","y":[1.6,1.1,0.1,0,1.3,0.8,0,0.9,1.5,0,0]},
{"f":96,"s":"sit","t":"s","y":[1.6,1.1,0.1,0,1,0.5,0,0.6,1.2,0,0]},
{"f":96,"s":"squat","t":"s","y":[1.6,1.1,0.1,0,2.5,2.1,0,2.1,3,0,0]},
{"f":97,"s":"walk","t":"s","y":[1.6,1.1,0.1,0,1.8,1.6,0,1.6,2.7,0,0]},
{"f":97,"s":"stand","t":"s","y":[1.6,1.1,0.1,0,2.7,2.2,0,2.2,2.8,0,0]},
{"f":97,"s":"sit","t":"s","y":[1.6,1.1,0.1,0,-2.2,-2.6,0,-2.6,-1.8,0,0]},
{"f":97,"s":"squat","t":"s","y":[1.6,1.1,0.1,0,1.2,0.6,0,0.7,1.6,0,0]},
{"f":98,"s":"walk","t":"s","y":[1.6,1.1,0.1,0,0.6,0.3,0,0.3,1.1,0,0]},
{"f":98,"s":"stand","t":"s","y":[1.6,1.1,0.1,0,-0.8,-1.3,0,-1.2,-0.4,0,0]},
{"f":98,"s":"sit","t":"s","y":[1.6,1.1,0.1,0,1,0.4,0,0.5,1.2,0,0]},
{"f":98,"s":"squat","t":"s","y":[1.6,1.1,0.1,0,-0.5,-0.9,0,-0.9,-0.2,0,0]},
{"f":99,"s":"walk","t":"s","y":[1.6,1.1,0.1,0,1.3,0.9,0,1,1.9,0,0]},
{"f":99,"s":"stand","t":"s","y":[1.6,1.1,0.1,0,0.4,0,0,0,0.8,0,0]},
{"f":99,"s":"sit","t":"s","y":[1.6,1.1,0.1,0,0,-0.6,0,-0.6,0,0,0]},
{"f":99,"s":"squat","t":"e56","y":[1.6,1.1,0.1,0,3,2.6,0,2.6,3.2,-3,0,0]}
    ]},
    "transform": [
      {"lookup": "t", "from": {"data": {"values": [
        {"t":"s","x":[0,1,2,5,6,31,32,33,58,59,63]},
        {"t":"0w","x":[0,1,2,5,6,31,32,33,52,53,57,59,63]},
        {"t":"0i","x":[0,1,2,5,6,31,32,33,56,57,58,59,63]},
        {"t":"a10","x":[0,1,2,5,6,10,11,31,32,33,45,46,58,59,63]},
        {"t":"4w","x":[0,1,2,5,6,10,11,31,32,33,43,44,58,59,63]},
        {"t":"a9","x":[0,1,2,5,6,9,10,31,32,33,45,46,58,59,63]},
        {"t":"7s","x":[0,1,2,5,6,9,10,31,32,33,48,49,58,59,63]},
        {"t":"10q","x":[0,1,2,5,6,23,24,31,32,33,38,39,58,59,63]},
        {"t":"14s","x":[0,1,2,5,6,10,11,31,32,33,46,47,58,59,63]},
        {"t":"14i","x":[0,1,2,5,6,12,13,31,32,33,40,41,58,59,63]},
        {"t":"16w","x":[0,1,2,5,6,31,32,33,50,51,54,55,58,59,63]},
        {"t":"16i","x":[0,1,2,5,6,31,32,33,51,52,53,54,58,59,63]},
        {"t":"e16","x":[0,1,2,5,6,31,32,33,53,54,55,56,57,58,59,63]},
        {"t":"17i","x":[0,1,2,5,6,11,12,31,32,33,40,41,42,46,47,58,59,63]},
        {"t":"j18","x":[0,1,2,5,6,18,19,31,32,33,40,41,58,59,63]},
        {"t":"32q","x":[0,1,2,5,6,11,12,31,32,33,45,46,58,59,63]},
        {"t":"33i","x":[0,1,2,5,6,31,32,33,47,48,58,59,63]},
        {"t":"34w","x":[0,1,2,5,6,7,31,32,33,49,50,58,59,63]},
        {"t":"38w","x":[0,1,2,5,6,7,8,9,10,11,31,32,33,48,49,58,59,63]},
        {"t":"e56","x":[0,1,2,5,6,31,32,33,56,57,59,63]},
        {"t":"43s","x":[0,1,2,5,6,31,32,33,37,38,39,58,59,63]},
        {"t":"43q","x":[0,1,2,5,6,31,32,33,49,50,58,59,63]},
        {"t":"44q","x":[0,1,2,5,6,31,32,33,47,48,49,50,58,59,63]},
        {"t":"46i","x":[0,1,2,5,6,29,30,31,32,33,58,59,63]},
        {"t":"50i","x":[0,1,2,5,6,12,13,31,32,33,43,44,58,59,63]},
        {"t":"51q","x":[0,1,2,5,6,31,32,33,55,56,57,58,59,63]},
        {"t":"52s","x":[0,1,2,5,6,31,32,33,54,55,57,58,59,63]},
        {"t":"e57","x":[0,1,2,5,6,31,32,33,57,58,59,63]},
        {"t":"54w","x":[0,1,2,5,6,17,18,31,32,33,40,41,58,59,63]},
        {"t":"55q","x":[0,1,2,5,6,27,28,29,30,31,32,33,34,35,36,58,59,63]},
        {"t":"57w","x":[0,1,2,5,6,31,32,33,52,58,59,63]},
        {"t":"57i","x":[0,1,2,5,6,8,9,31,32,33,47,48,58,59,63]},
        {"t":"59q","x":[0,1,2,5,6,31,32,33,53,54,58,59,63]},
        {"t":"61i","x":[0,1,2,5,6,7,31,32,33,47,48,58,59,63]},
        {"t":"j12","x":[0,1,2,5,6,12,13,31,32,33,45,46,58,59,63]},
        {"t":"69q","x":[0,1,2,5,6,7,8,9,10,31,32,33,48,49,58,59,63]},
        {"t":"75q","x":[0,1,2,5,6,8,9,31,32,33,46,47,58,59,63]},
        {"t":"76q","x":[0,1,2,5,6,13,14,31,32,33,43,44,58,59,63]},
        {"t":"80q","x":[0,1,2,5,6,31,32,33,52,53,58,59,63]},
        {"t":"86q","x":[0,1,2,5,6,18,19,31,32,33,41,42,58,59,63]},
        {"t":"87s","x":[0,1,2,5,6,28,29,31,32,33,35,36,58,59,63]},
        {"t":"87q","x":[0,1,2,5,6,21,22,31,32,33,39,40,58,59,63]},
        {"t":"88q","x":[0,1,2,5,6,31,32,33,48,49,58,59,63]},
        {"t":"92s","x":[0,1,2,5,6,31,32,33,56,58,59,63]},
        {"t":"92i","x":[0,1,2,5,6,12,13,31,32,33,46,47,58,59,63]},
        {"t":"94s","x":[0,1,2,5,6,7,31,32,33,50,51,58,59,63]},
        {"t":"95s","x":[0,1,2,5,6,31,32,33,54,55,56,57,59,63]},
        {"t":"95i","x":[0,1,2,5,6,12,13,31,32,33,41,42,58,59,63]}
      ]}, "key": "t", "fields": ["x"]}},
      {"flatten": ["x", "y"]}
    ],
    "facet": {"field": "f", "type": "ordinal", "title": null,
      "header": {"labelExpr": "'frame' + datum.value", "labelFontSize": 9.5, "labelPadding": 5, "labelColor": "#222", "labelFont": "Noto Sans CJK TC"}},
    "columns": 10,
    "bounds": "flush",
    "spacing": {"row": 13, "column": 24},
    "resolve": {"axis": {"x": "independent", "y": "independent"}},
    "spec": {
      "width": 127,
      "height": 64,
      "mark": {"type": "line", "strokeWidth": 1, "opacity": 0.85},
      "encoding": {
        "x": {"field": "x", "type": "quantitative", "scale": {"domain": [0, 63], "nice": false, "zero": false}, "axis": {"values": [0, 25, 50], "title": null, "labelFlush": false, "labelOverlap": false}},
        "y": {"field": "y", "type": "quantitative", "scale": {"domain": [-5, 5], "nice": false}, "axis": {"values": [-5, 0, 5], "title": null, "labelFlush": false, "labelOverlap": false}},
        "color": {"field": "s", "type": "nominal",
          "scale": {"domain": ["walk", "stand", "sit", "squat"], "range": ["#ff0000", "#0000ff", "#008000", "#00bfbf"]},
          "legend": {"title": null, "orient": "none", "legendX": 1494, "legendY": 700, "strokeColor": "#d0d0d0", "fillColor": "#ffffff", "cornerRadius": 4, "padding": 7, "symbolType": "stroke", "symbolSize": 800, "symbolStrokeWidth": 1.2, "labelFontSize": 13.5, "rowPadding": -6, "labelOffset": 12, "labelColor": "#222"}}
      }
    }
  }]
}]
}
